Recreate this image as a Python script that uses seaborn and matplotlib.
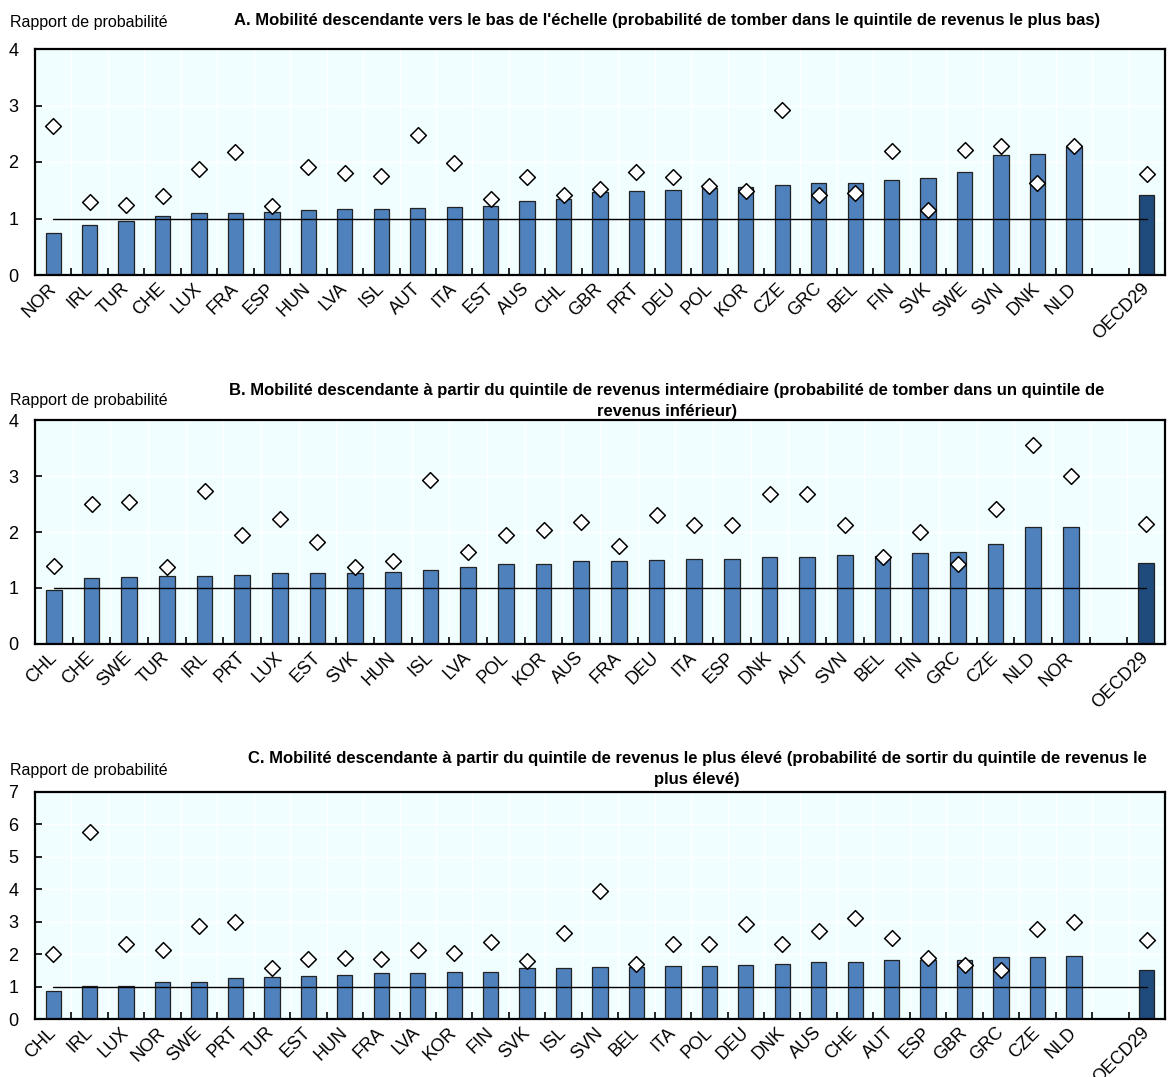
import matplotlib
matplotlib.use("Agg")
import matplotlib.pyplot as plt
import pandas as pd
import seaborn as sns

sns.set_theme(style="white")
plt.rcParams["font.family"] = ["Liberation Sans Narrow", "Liberation Sans", "DejaVu Sans"]
plt.rcParams["text.color"] = "black"
plt.rcParams["xtick.color"] = "black"
plt.rcParams["ytick.color"] = "black"

# Panel A: downward mobility to the bottom quintile
pays_a = ["NOR", "IRL", "TUR", "CHE", "LUX", "FRA", "ESP", "HUN", "LVA", "ISL",
          "AUT", "ITA", "EST", "AUS", "CHL", "GBR", "PRT", "DEU", "POL", "KOR",
          "CZE", "GRC", "BEL", "FIN", "SVK", "SWE", "SVN", "DNK", "NLD", "OECD29"]
barres_a = [0.74, 0.88, 0.96, 1.05, 1.09, 1.10, 1.12, 1.15, 1.16, 1.16,
            1.18, 1.21, 1.23, 1.31, 1.35, 1.47, 1.48, 1.51, 1.54, 1.56,
            1.59, 1.62, 1.63, 1.69, 1.71, 1.82, 2.13, 2.15, 2.26, 1.41]
losanges_a = [2.63, 1.29, 1.24, 1.39, 1.87, 2.17, 1.22, 1.91, 1.80, 1.76,
              2.48, 1.99, 1.35, 1.73, 1.41, 1.53, 1.82, 1.73, 1.58, 1.49,
              2.92, 1.42, 1.45, 2.19, 1.15, 2.22, 2.29, 1.63, 2.28, 1.79]

# Panel B: downward mobility from the middle quintile
pays_b = ["CHL", "CHE", "SWE", "TUR", "IRL", "PRT", "LUX", "EST", "SVK", "HUN",
          "ISL", "LVA", "POL", "KOR", "AUS", "FRA", "DEU", "ITA", "ESP", "DNK",
          "AUT", "SVN", "BEL", "FIN", "GRC", "CZE", "NLD", "NOR", "OECD29"]
barres_b = [0.97, 1.18, 1.19, 1.21, 1.22, 1.24, 1.26, 1.26, 1.27, 1.28,
            1.33, 1.37, 1.42, 1.42, 1.48, 1.49, 1.50, 1.51, 1.51, 1.55,
            1.56, 1.59, 1.58, 1.63, 1.64, 1.78, 2.09, 2.09, 1.45]
losanges_b = [1.39, 2.50, 2.54, 1.38, 2.73, 1.94, 2.23, 1.82, 1.38, 1.48,
              2.93, 1.64, 1.94, 2.03, 2.17, 1.75, 2.31, 2.12, 2.13, 2.68,
              2.67, 2.12, 1.56, 2.00, 1.42, 2.41, 3.56, 3.00, 2.14]

# Panel C: downward mobility from the top quintile
pays_c = ["CHL", "IRL", "LUX", "NOR", "SWE", "PRT", "TUR", "EST", "HUN", "FRA",
          "LVA", "KOR", "FIN", "SVK", "ISL", "SVN", "BEL", "ITA", "POL", "DEU",
          "DNK", "AUS", "CHE", "AUT", "ESP", "GBR", "GRC", "CZE", "NLD", "OECD29"]
barres_c = [0.87, 1.01, 1.01, 1.14, 1.14, 1.26, 1.28, 1.34, 1.37, 1.41,
            1.43, 1.44, 1.45, 1.56, 1.57, 1.60, 1.60, 1.62, 1.64, 1.65,
            1.69, 1.76, 1.77, 1.81, 1.82, 1.83, 1.91, 1.91, 1.94, 1.50]
losanges_c = [2.01, 5.76, 2.30, 2.14, 2.86, 2.98, 1.57, 1.86, 1.88, 1.85,
              2.13, 2.04, 2.36, 1.79, 2.65, 3.96, 1.69, 2.32, 2.32, 2.92,
              2.31, 2.70, 3.11, 2.49, 1.89, 1.67, 1.52, 2.76, 2.99, 2.44]

titres = [
    "A. Mobilité descendante vers le bas de l'échelle (probabilité de tomber dans le quintile de revenus le plus bas)",
    "B. Mobilité descendante à partir du quintile de revenus intermédiaire (probabilité de tomber dans un quintile de\nrevenus inférieur)",
    "C. Mobilité descendante à partir du quintile de revenus le plus élevé (probabilité de sortir du quintile de revenus le\nplus élevé)",
]
y_max = [4, 4, 7]

BLEU = "#4F81BD"
BLEU_FONCE = "#1F4A7C"
FOND = "#F0FEFF"

W, H = 1172, 1077
fig = plt.figure(figsize=(W / 100, H / 100), dpi=100)

# pixel boxes (top, bottom) of each panel
boites = [(49, 275), (420, 644), (792, 1019)]
titre_y = [20, 401, 769]
titre_x = [667, 667, 697]
label_y = [22, 400, 771]


def panneau(ax, pays, barres, losanges, ymax):
    vide = " "
    ordre = pays[:-1] + [vide] + pays[-1:]
    df = pd.DataFrame({
        "pays": pays,
        "barre": barres,
        "losange": losanges,
        "groupe": ["pays"] * (len(pays) - 1) + ["ocde"],
    })
    n = len(ordre)
    ax.set_facecolor(FOND)
    for k in range(n - 1):
        ax.axvline(k + 0.5, color="white", lw=1.0, zorder=0.5)
    for v in range(1, ymax):
        ax.axhline(v, color="white", lw=1.0, zorder=0.5)

    sns.barplot(data=df, x="pays", y="barre", order=ordre, hue="groupe",
                palette={"pays": BLEU, "ocde": BLEU_FONCE}, dodge=False,
                saturation=1, width=0.42, legend=False, edgecolor="#222222",
                linewidth=0.9, ax=ax, zorder=2)
    ax.plot([0, n - 1], [1, 1], color="black", lw=1.0, zorder=3)
    sns.stripplot(data=df, x="pays", y="losange", order=ordre, jitter=False,
                  marker="D", color="white", edgecolor="black", linewidth=1.1,
                  size=8, ax=ax, zorder=4)

    ax.set_xlim(-0.5, n - 0.5)
    ax.set_ylim(0, ymax)
    ax.set_yticks(range(0, ymax + 1))
    ax.set_xlabel("")
    ax.set_ylabel("")
    ax.set_xticks(range(n))
    ax.set_xticklabels(ordre, rotation=45, ha="right", va="center",
                       rotation_mode="anchor", fontsize=13)
    ax.set_xticks([k + 0.5 for k in range(n - 1)], minor=True)
    ax.tick_params(axis="x", which="major", length=0, pad=8)
    ax.tick_params(axis="x", which="minor", direction="in", length=5,
                   width=1.2, color="black", bottom=True)
    ax.tick_params(axis="y", direction="in", length=5, width=1.2,
                   labelsize=13, pad=12, left=True, color="black")
    for s in ax.spines.values():
        s.set_color("black")
        s.set_linewidth(1.6)


tables = [(pays_a, barres_a, losanges_a), (pays_b, barres_b, losanges_b),
          (pays_c, barres_c, losanges_c)]

for i, (pays, barres, losanges) in enumerate(tables):
    top, bot = boites[i]
    ax = fig.add_axes([35 / W, 1 - bot / H, 1130 / W, (bot - top) / H])
    panneau(ax, pays, barres, losanges, y_max[i])
    fig.text(titre_x[i] / W, 1 - titre_y[i] / H, titres[i], ha="center",
             va="center", fontsize=12, fontweight="bold", linespacing=1.55,
             multialignment="center")
    fig.text(10 / W, 1 - label_y[i] / H, "Rapport de probabilité",
             ha="left", va="center", fontsize=11.5)

fig.savefig("out.png", dpi=100)
